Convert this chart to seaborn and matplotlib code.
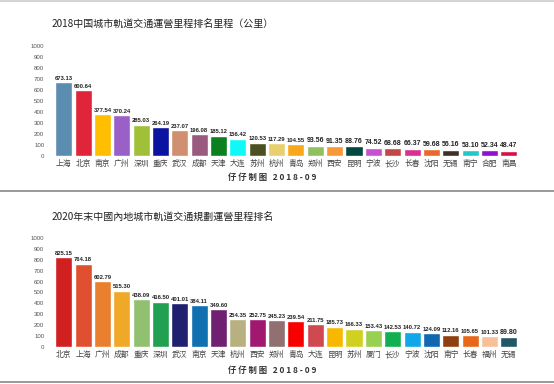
import matplotlib
matplotlib.use("Agg")
import matplotlib.pyplot as plt
import seaborn as sns
import pandas as pd

# =========================
# DATA
# =========================
title_2018 = "2018中国城市軌道交通運營里程排名里程（公里）"
cities_2018 = ["上海", "北京", "南京", "广州", "深圳", "重庆", "武汉", "成都",
               "天津", "大连", "苏州", "杭州", "青岛", "郑州", "西安", "昆明",
               "宁波", "长沙", "长春", "沈阳", "无锡", "南宁", "合肥", "南昌"]
km_2018 = [673.13, 600.64, 377.54, 370.24, 285.03, 264.19, 237.07, 196.08,
           185.12, 156.42, 120.53, 117.29, 104.55, 93.56, 91.35, 88.76,
           74.52, 68.68, 66.37, 59.68, 56.16, 53.10, 52.34, 48.47]
colors_2018 = ["#5b8db0", "#e0253a", "#ffbe00", "#9b5fc8", "#a0c03a", "#0a14a0",
               "#d09070", "#9a5a80", "#0a8020", "#10f8f8", "#4a5020", "#e8d070",
               "#f8a818", "#90c060", "#f89838", "#004840", "#c850d0", "#c04848",
               "#d83090", "#e86830", "#403028", "#20c8c8", "#9010d0", "#d81048"]

title_2020 = "2020年末中國內地城市軌道交通規劃運營里程排名"
cities_2020 = ["北京", "上海", "广州", "成都", "重庆", "深圳", "武汉", "南京",
               "天津", "杭州", "西安", "郑州", "青岛", "大连", "昆明", "苏州",
               "厦门", "长沙", "宁波", "沈阳", "南宁", "长春", "福州", "无锡"]
km_2020 = [825.15, 764.18, 602.79, 515.30, 438.09, 416.50, 401.01, 384.11,
           349.60, 254.35, 252.75, 245.23, 239.54, 211.75, 185.73, 166.33,
           153.43, 142.53, 140.72, 124.09, 112.16, 105.65, 101.33, 89.80]
colors_2020 = ["#d02020", "#e05030", "#e88030", "#f0a828", "#90c070", "#20a050",
               "#202070", "#1070b0", "#702070", "#b8b080", "#a01870", "#907070",
               "#f80000", "#d04850", "#f8b800", "#d0d020", "#98d050", "#10b050",
               "#10a8e8", "#1068b0", "#904010", "#e86818", "#f8c098", "#205868"]

y_ticks = [0, 100, 200, 300, 400, 500, 600, 700, 800, 900, 1000]
footer = "仔 仔 制 图   2 0 1 8 - 0 9"

# =========================
# SETTINGS
# =========================
sns.set_theme(style="white")
plt.rcParams["font.family"] = ["Noto Sans CJK SC", "DejaVu Sans"]

W, H = 554, 384
fig = plt.figure(figsize=(W / 100, H / 100), dpi=100)
fig.patch.set_facecolor("white")


def draw_panel(rect, cities, values, colors, title, title_y, footer_y):
    ax = fig.add_axes(rect)
    df = pd.DataFrame({"city": cities, "km": values})
    sns.barplot(data=df, x="city", y="km", hue="city", palette=colors,
                width=0.88, legend=False, ax=ax, saturation=1)
    ax.set_xlim(-0.5, len(cities) - 0.5)
    ax.set_ylim(0, 1000)
    ax.set_yticks(y_ticks)
    ax.set_yticklabels([str(t) for t in y_ticks], family="Liberation Sans",
                       fontsize=4.4, color="#555555")
    ax.tick_params(axis="y", length=0, pad=7)
    ax.tick_params(axis="x", length=0, pad=3, labelsize=5.6, labelcolor="#444444")
    ax.set_xlabel("")
    ax.set_ylabel("")
    for s in ax.spines.values():
        s.set_visible(False)
    for cont in ax.containers:
        for bar in cont:
            v = bar.get_height()
            ax.annotate(f"{v:.2f}", (bar.get_x() + bar.get_width() / 2, v),
                        xytext=(0, 1), textcoords="offset points",
                        ha="center", va="bottom", family="Liberation Sans",
                        fontweight="bold", color="#222222",
                        fontsize=5 if v < 100 else 4.2)
    fig.text(52 / W, 1 - title_y / H, title, fontsize=7.2, color="#222222",
             ha="left", va="center")
    fig.text(272 / W, 1 - footer_y / H, footer, fontsize=6, color="#333333",
             ha="center", va="center", fontweight="bold")
    return ax


draw_panel([54 / W, (H - 156) / H, 464.5 / W, 110 / H],
           cities_2018, km_2018, colors_2018, title_2018, 24, 177)
draw_panel([54 / W, (H - 347) / H, 464.5 / W, 109 / H],
           cities_2020, km_2020, colors_2020, title_2020, 217, 370)

# separator lines
for y, c in [(1, "#cccccc"), (191, "#888888"), (382, "#888888")]:
    fig.add_artist(plt.Line2D([0, 1], [1 - y / H, 1 - y / H],
                              transform=fig.transFigure, color=c, lw=1.2))

fig.savefig("out.png", dpi=100, facecolor="white")
